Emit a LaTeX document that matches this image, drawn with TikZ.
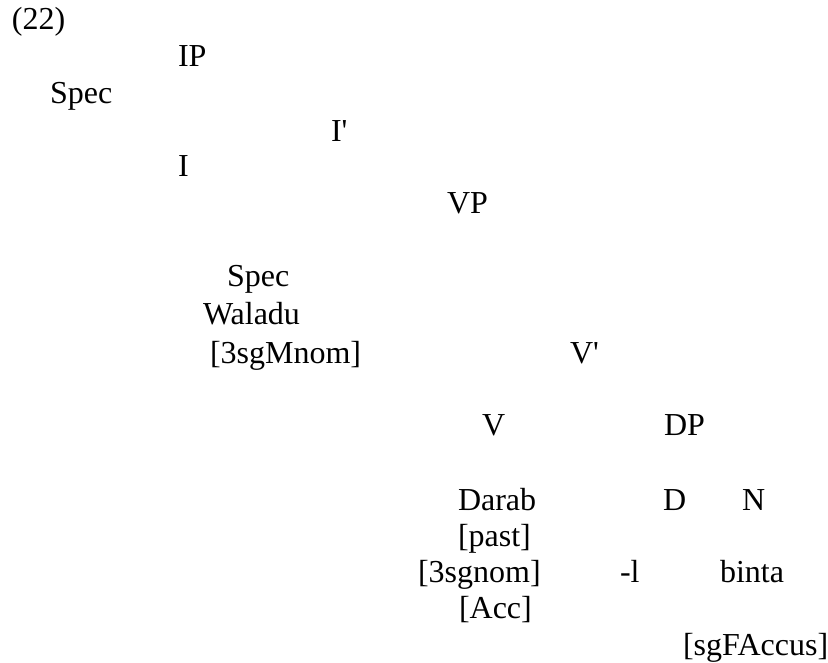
\documentclass[tikz,border=0pt]{standalone}
\usepackage{fontspec}
\setmainfont{Liberation Serif}
\begin{document}
\begin{tikzpicture}[x=1pt,y=-1pt,
  lbl/.style={anchor=base west,inner sep=0pt,outer sep=0pt,font=\fontsize{32}{37}\selectfont}]
\useasboundingbox (0,0) rectangle (828,663);
\node[lbl] (ex) at (12,30) {(22)};
\node[lbl] (ip) at (178,67) {IP};
\node[lbl] (spec1) at (50,104) {Spec};
\node[lbl] (ibar) at (331,142) {I\textquotesingle};
\node[lbl] (i) at (178,177) {I};
\node[lbl] (vp) at (447,214) {VP};
\node[lbl] (spec2) at (227,287) {Spec};
\node[lbl] (waladu) at (203,325) {Waladu};
\node[lbl] (msg) at (210,363) {[3sgMnom]};
\node[lbl] (vbar) at (570,363) {V\textquotesingle};
\node[lbl] (v) at (482,435) {V};
\node[lbl] (dp) at (664,435) {DP};
\node[lbl] (darab) at (458,510) {Darab};
\node[lbl] (d) at (663,510) {D};
\node[lbl] (n) at (742,510) {N};
\node[lbl] (past) at (458,546) {[past]};
\node[lbl] (nom) at (418,582) {[3sgnom]};
\node[lbl] (l) at (620,582) {-l};
\node[lbl] (binta) at (720,582) {binta};
\node[lbl] (acc) at (459,618) {[Acc]};
\node[lbl] (fem) at (683,655) {[sgFAccus]};
\end{tikzpicture}
\end{document}
